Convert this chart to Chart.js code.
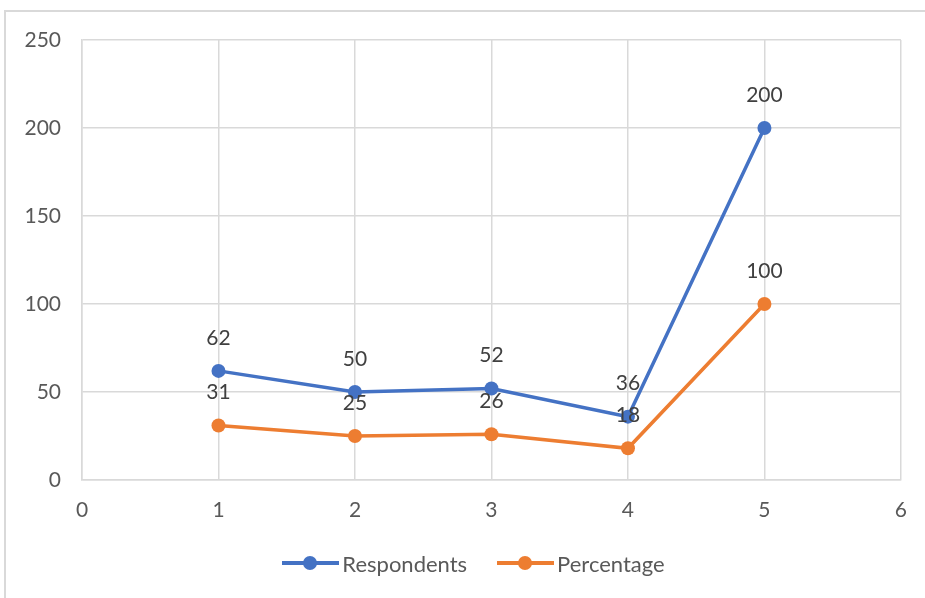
<!DOCTYPE html>
<html>
<head>
<meta charset="utf-8">
<script src="https://cdn.jsdelivr.net/npm/chart.js@4.4.0/dist/chart.umd.min.js"></script>
<style>
  html, body { margin: 0; padding: 0; background: #fff; overflow: hidden; }
  #wrap { position: relative; width: 925px; height: 598px; }
  #frame { position: absolute; left: 4px; top: 10px; width: 1000px; height: 700px; border: 2px solid #d9d9d9; box-sizing: border-box; }
  canvas { position: absolute; left: 0; top: 0; }
  #legend { position: absolute; top: 549px; left: 11px; width: 925px; display: flex; justify-content: center; align-items: center;
            font-family: Lato, "Open Sans", sans-serif; font-size: 22px; color: #595959; }
  .item { display: flex; align-items: center; margin: 0 15px; }
  .sym { position: relative; width: 57px; height: 28px; margin-right: 3px; }
  .sym .ln { position: absolute; left: 0; right: 0; top: 12px; height: 4px; }
  .sym .dt { position: absolute; left: 21px; top: 7px; width: 14px; height: 14px; border-radius: 50%; }
</style>
</head>
<body>
<div id="wrap">
  <div id="frame"></div>
  <canvas id="c" width="925" height="598"></canvas>
  <div id="legend"></div>
</div>
<script>
const xValues = [1, 2, 3, 4, 5];
const respondents = [62, 50, 52, 36, 200];
const percentage = [31, 25, 26, 18, 100];
const seriesNames = ['Respondents', 'Percentage'];
const seriesColors = ['#4472C4', '#ED7D31'];

const toPoints = (vals) => xValues.map((x, i) => ({ x: x, y: vals[i] }));

const dataLabels = {
  id: 'dataLabels',
  afterDatasetsDraw(chart) {
    const ctx = chart.ctx;
    ctx.save();
    ctx.font = '21px Lato, "Open Sans", sans-serif';
    ctx.fillStyle = '#404040';
    ctx.textAlign = 'center';
    ctx.textBaseline = 'middle';
    chart.data.datasets.forEach((ds, di) => {
      const meta = chart.getDatasetMeta(di);
      meta.data.forEach((pt, i) => {
        ctx.fillText(String(ds.data[i].y), pt.x, pt.y - 33);
      });
    });
    ctx.restore();
  }
};

const datasets = [respondents, percentage].map((vals, i) => ({
  label: seriesNames[i],
  data: toPoints(vals),
  borderColor: seriesColors[i],
  backgroundColor: seriesColors[i],
  borderWidth: 3.5,
  pointRadius: 7,
  pointHoverRadius: 7,
  pointBorderWidth: 0,
  showLine: true,
  tension: 0
}));

new Chart(document.getElementById('c'), {
  type: 'scatter',
  data: { datasets: datasets },
  options: {
    responsive: false,
    animation: false,
    events: [],
    layout: { padding: { left: 0, right: 24, top: 40, bottom: 68 } },
    plugins: { legend: { display: false }, tooltip: { enabled: false } },
    scales: {
      x: {
        type: 'linear', min: 0, max: 6,
        ticks: { stepSize: 1, color: '#595959', font: { family: 'Lato, "Open Sans", sans-serif', size: 21 }, padding: 18 },
        grid: { color: '#d9d9d9', lineWidth: 1.5, drawTicks: false },
        border: { color: '#d9d9d9', width: 1.5 },
        afterFit(s) { s.height = 50; }
      },
      y: {
        type: 'linear', min: 0, max: 250,
        ticks: { stepSize: 50, color: '#595959', font: { family: 'Lato, "Open Sans", sans-serif', size: 21 }, padding: 21 },
        grid: { color: '#d9d9d9', lineWidth: 1.5, drawTicks: false },
        border: { color: '#d9d9d9', width: 1.5 },
        afterFit(s) { s.width = 82; }
      }
    }
  },
  plugins: [dataLabels]
});

const legend = document.getElementById('legend');
seriesNames.forEach((name, i) => {
  const item = document.createElement('div');
  item.className = 'item';
  item.innerHTML = '<span class="sym"><span class="ln" style="background:' + seriesColors[i] + '"></span><span class="dt" style="background:' + seriesColors[i] + '"></span></span><span>' + name + '</span>';
  legend.appendChild(item);
});
</script>
</body>
</html>
